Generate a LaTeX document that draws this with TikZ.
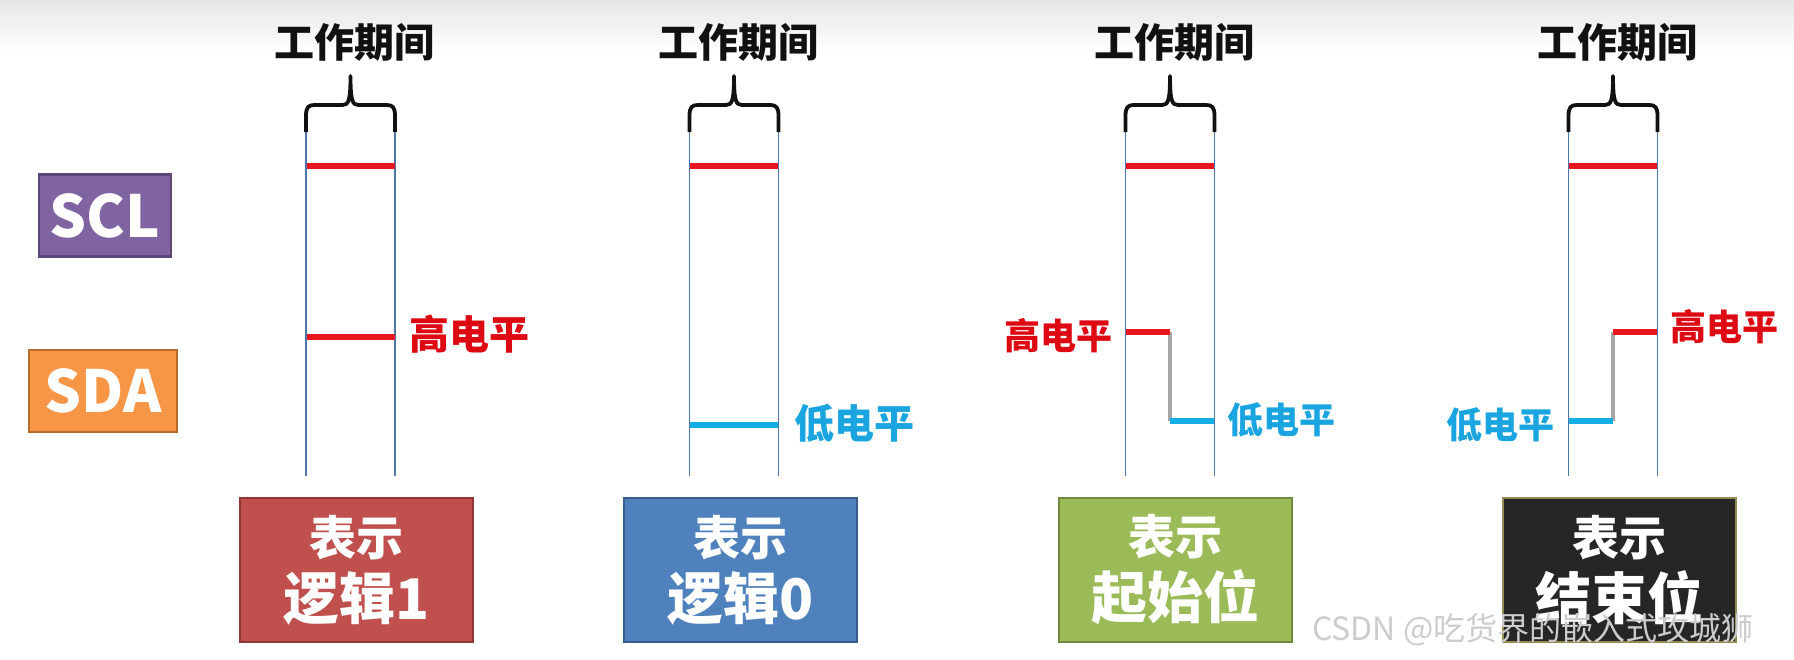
\documentclass[tikz,border=0pt]{standalone}
\usepackage{fontspec}
\newfontfamily\cjk{Noto Sans CJK SC}
\usetikzlibrary{calc}
\definecolor{ink}{HTML}{111111}
\definecolor{window}{HTML}{4F75AA}
\definecolor{highline}{HTML}{E8161E}
\definecolor{lowline}{HTML}{15AEE5}
\definecolor{hightext}{HTML}{DD0A14}
\definecolor{lowtext}{HTML}{1BA5E0}
\definecolor{sclfill}{HTML}{8064A2}
\definecolor{sclline}{HTML}{5C4776}
\definecolor{sdafill}{HTML}{F79646}
\definecolor{sdaline}{HTML}{B96B2C}
\definecolor{onefill}{HTML}{C0504D}
\definecolor{oneline}{HTML}{8C3836}
\definecolor{zerofill}{HTML}{4F81BD}
\definecolor{zeroline}{HTML}{385D8A}
\definecolor{startfill}{HTML}{9BBB59}
\definecolor{startline}{HTML}{71893F}
\definecolor{stopfill}{HTML}{262626}
\definecolor{stopline}{HTML}{948A54}

\begin{document}
\begin{tikzpicture}[
  x=1pt, y=-1pt,
  font=\cjk\bfseries,
  heading/.style={font=\cjk\bfseries\fontsize{40}{44}\selectfont, text=ink,
    inner sep=0pt},
  brace/.style={draw=ink, line width=3.8pt, line join=round},
  window/.style={draw=window, line width=1.3pt},
  high/.style={draw=highline, line width=5.5pt},
  low/.style={draw=lowline, line width=5.5pt},
  transition/.style={draw=gray!70, line width=3.5pt},
  highlabel/.style={font=\cjk\bfseries\fontsize{40}{44}\selectfont,
    text=hightext, inner sep=0pt},
  lowlabel/.style={highlabel, text=lowtext},
  narrow/.style={font=\cjk\bfseries\fontsize{36}{40}\selectfont},
  signal/.style={line width=2.5pt, text=white, inner sep=0pt,
    minimum width=132pt, minimum height=82pt,
    font=\cjk\bfseries\fontsize{58}{60}\selectfont},
  meaning/.style={line width=2.5pt, text=white, align=center, inner sep=0pt,
    minimum width=233pt, minimum height=144pt,
    font=\cjk\bfseries\fontsize{47}{64}\selectfont},
  watermark/.style={font=\cjk\fontsize{32}{36}\selectfont, text=gray!40,
    inner sep=0pt}
]
\useasboundingbox (0,0) rectangle (1794,659);
% slide background fades out below the top edge
\shade[top color=gray!20, bottom color=white] (0,0) rectangle (1794,50);

\node[signal, fill=sclfill, draw=sclline] (scl) at (105,215.5) {SCL};
\node[signal, fill=sdafill, draw=sdaline, minimum width=148pt]
  (sda) at (103,391) {SDA};

% one working window per bit; SDA levels are given as left/right halves
\foreach \name/\cx/\first/\ya/\second/\yb in {
  one/350.5/high/337/high/337,
  zero/734/low/425/low/425,
  start/1170/high/332/low/421,
  stop/1613/low/421/high/332} {
  \coordinate (\name-tl) at (\cx-44.5,132);
  \coordinate (\name-tr) at (\cx+44.5,132);
  \coordinate (\name-bl) at (\cx-44.5,476);
  \coordinate (\name-br) at (\cx+44.5,476);
  \node[heading] (\name-title) at (\cx+4,42) {工作期间};
  \draw[brace] (\name-tl) -- ++(0,-16)
    .. controls ++(0,-9) and ++(-6,0) .. (\cx-36,105) -- (\cx-8,105)
    .. controls (\cx-2,105) and (\cx,101) .. (\cx,76)
    .. controls (\cx,101) and (\cx+2,105) .. (\cx+8,105) -- (\cx+36,105)
    .. controls ++(6,0) and ++(0,-9) .. ($(\name-tr)+(0,-16)$) -- (\name-tr);
  \draw[window] (\name-tl) -- (\name-bl);
  \draw[window] (\name-tr) -- (\name-br);
  \draw[high] (\cx-44,166) -- (\cx+44,166);
  \draw[transition] (\cx,\ya) -- (\cx,\yb);
  \draw[\first] (\cx-44,\ya) -- (\cx,\ya);
  \draw[\second] (\cx,\yb) -- (\cx+44,\yb);
}

\node[highlabel, anchor=west] (one-high) at (409,334) {高电平};
\node[lowlabel, anchor=west] (zero-low) at (794,423) {低电平};
\node[highlabel, narrow, anchor=east] (start-high) at (1113,336) {高电平};
\node[lowlabel, narrow, anchor=west] (start-low) at (1227,420) {低电平};
\node[lowlabel, narrow, anchor=east] (stop-low) at (1555,425) {低电平};
\node[highlabel, narrow, anchor=west] (stop-high) at (1670,327) {高电平};

\node[meaning, fill=onefill, draw=oneline] (one-box) at (356.5,570)
  {表示\\{\fontsize{56}{64}\selectfont 逻辑1}};
\node[meaning, fill=zerofill, draw=zeroline] (zero-box) at (740.5,570)
  {表示\\{\fontsize{56}{64}\selectfont 逻辑0}};
\node[meaning, fill=startfill, draw=startline] (start-box) at (1175.5,570)
  {表示\\{\fontsize{56}{64}\selectfont 起始位}};
\node[meaning, fill=stopfill, draw=stopline] (stop-box) at (1619.5,570)
  {表示\\{\fontsize{56}{64}\selectfont 结束位}};

\node[watermark, anchor=west] (csdn) at (1312,630) {CSDN @吃货界的嵌入式攻城狮};
\end{tikzpicture}
\end{document}
